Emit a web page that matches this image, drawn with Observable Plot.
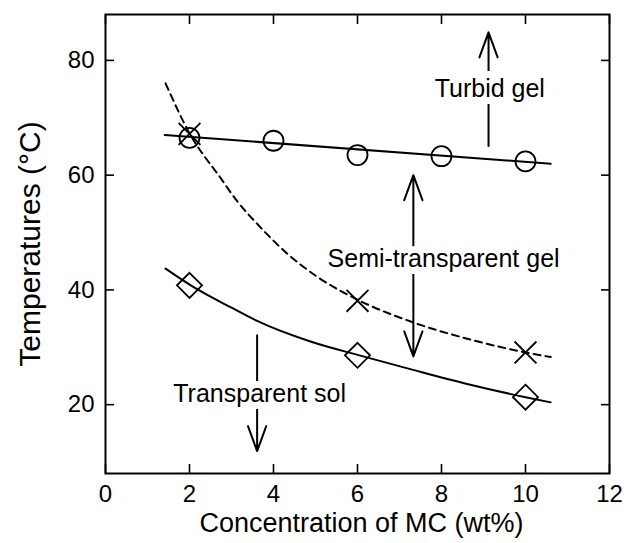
<!DOCTYPE html>
<html>
<head>
<meta charset="utf-8">
<script src="https://cdn.jsdelivr.net/npm/d3@7"></script>
<script src="https://cdn.jsdelivr.net/npm/@observablehq/plot@0.6"></script>
<style>
  html, body { margin: 0; padding: 0; background: white; }
</style>
</head>
<body>
<div id="chart"></div>
<script>
// ---- data ----
const xTicks = [0, 2, 4, 6, 8, 10, 12];
const yTicks = [20, 40, 60, 80];

const circleX = [2, 4, 6, 8, 10];
const circleT = [66.5, 66.0, 63.5, 63.3, 62.4];

const crossX = [2, 6, 10];
const crossT = [67.2, 38.1, 29.1];

const diamondX = [2, 6, 10];
const diamondT = [40.8, 28.6, 21.3];

const turbidLineX = [1.41, 10.6];
const turbidLineT = [67.0, 62.0];

const semiCurveX = [1.43, 2.0, 2.74, 3.13, 3.69, 4.33, 5.04, 6.0, 7.3, 8.61, 10.0, 10.6];
const semiCurveT = [76.0, 67.3, 59.5, 55.5, 50.9, 46.3, 42.3, 38.3, 34.4, 31.5, 29.1, 28.3];

const solCurveX = [1.43, 2.04, 3.0, 3.61, 4.88, 6.09, 7.3, 8.61, 10.0, 10.6];
const solCurveT = [43.7, 40.75, 36.9, 34.6, 31.0, 28.5, 26.1, 23.6, 21.3, 20.4];

const labels = ["Turbid gel", "Semi-transparent gel", "Transparent sol"];
const labelX = [9.15, 8.05, 3.67];
const labelT = [75.0, 45.4, 21.9];

const arrowX = [9.12, 7.33, 7.33, 3.61];
const arrowFrom = [65.1, 44.0, 44.0, 32.1];
const arrowTo = [84.9, 60.0, 28.4, 11.9];

const xTitle = "Concentration of MC (wt%)";
const yTitle = "Temperatures (°C)";

// ---- tables built from the arrays ----
const zip = (xs, ys) => xs.map((x, i) => ({x, y: ys[i]}));
const circles = zip(circleX, circleT);
const crosses = zip(crossX, crossT);
const diamonds = zip(diamondX, diamondT);
const turbidLine = zip(turbidLineX, turbidLineT);
const semiCurve = zip(semiCurveX, semiCurveT);
const solCurve = zip(solCurveX, solCurveT);
const notes = labels.map((t, i) => ({t, x: labelX[i], y: labelT[i]}));
const arrows = arrowX.map((x, i) => ({x, y1: arrowFrom[i], y2: arrowTo[i]}));

const font = "'Liberation Sans', Arial, Helvetica, sans-serif";

const chart = Plot.plot({
  width: 630,
  height: 543,
  marginLeft: 105,
  marginRight: 21,
  marginTop: 14,
  marginBottom: 70,
  style: {fontFamily: font, fontSize: "24px", color: "black", background: "white"},
  x: {domain: [0, 12]},
  y: {domain: [8, 88]},
  marks: [
    // axes with inward ticks
    Plot.axisX({anchor: "bottom", ticks: xTicks, tickSize: -9, tickPadding: 20, label: null, fontSize: 24, strokeWidth: 1.6}),
    Plot.axisX({anchor: "top", ticks: xTicks, tickSize: -9, tickFormat: () => "", label: null, strokeWidth: 1.6}),
    Plot.axisY({anchor: "left", ticks: yTicks, tickSize: -9, tickPadding: 20, label: null, fontSize: 24, strokeWidth: 1.6}),
    Plot.axisY({anchor: "right", ticks: yTicks, tickSize: -9, tickFormat: () => "", label: null, strokeWidth: 1.6}),
    Plot.frame({stroke: "black", strokeWidth: 2}),
    // annotation arrows
    Plot.arrow(arrows, {x1: "x", x2: "x", y1: "y1", y2: "y2", stroke: "black", strokeWidth: 2, headAngle: 40, headLength: 20}),
    Plot.text(notes, {x: "x", y: "y", text: "t", fontSize: 25, fill: "black", stroke: "white", strokeWidth: 14, paintOrder: "stroke", strokeLinejoin: "round"}),
    // data
    Plot.line(turbidLine, {x: "x", y: "y", stroke: "black", strokeWidth: 2}),
    Plot.line(semiCurve, {x: "x", y: "y", stroke: "black", strokeWidth: 2, strokeDasharray: "7,5", curve: "monotone-x"}),
    Plot.line(solCurve, {x: "x", y: "y", stroke: "black", strokeWidth: 2, curve: "monotone-x"}),
    Plot.dot(circles, {x: "x", y: "y", r: 10, symbol: "circle", stroke: "black", strokeWidth: 1.8, fill: "none"}),
    Plot.dot(crosses, {x: "x", y: "y", r: 10, symbol: "times", stroke: "black", strokeWidth: 1.8}),
    Plot.dot(diamonds, {x: "x", y: "y", r: 11.3, symbol: "diamond2", stroke: "black", strokeWidth: 1.8, fill: "none"}),
    // axis titles
    Plot.text([xTitle], {frameAnchor: "bottom", dy: 50, dx: 4, text: d => d, fontSize: 27, fill: "black", lineAnchor: "middle", textAnchor: "middle"}),
    Plot.text([yTitle], {frameAnchor: "left", dx: -75, rotate: -90, text: d => d, fontSize: 30, fill: "black", lineAnchor: "middle", textAnchor: "middle"})
  ]
});
document.getElementById("chart").appendChild(chart);
</script>
</body>
</html>
